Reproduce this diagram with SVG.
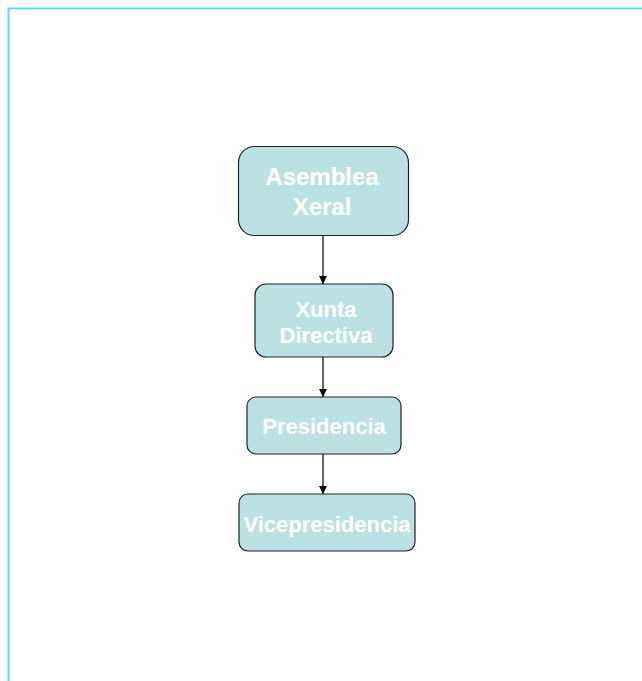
<svg xmlns="http://www.w3.org/2000/svg" width="642" height="681" viewBox="0 0 642 681">
<style>
.box{fill:#bce1e4;stroke:#222;stroke-width:1.2}
.t{font-family:"Liberation Sans",Arial,sans-serif;font-weight:bold;fill:#fff;text-anchor:middle}
.c{stroke:#000;stroke-width:1.2;fill:none;marker-end:url(#ah)}
</style>
<defs>
<marker id="ah" viewBox="0 0 10 10" refX="10" refY="5" markerWidth="8" markerHeight="8" markerUnits="userSpaceOnUse" orient="auto">
<path d="M0,0 L10,5 L0,10 z" fill="#000"/>
</marker>
</defs>
<rect x="0" y="0" width="642" height="681" fill="#fff"/>
<path d="M8.5,681 V8.5 H642" fill="none" stroke="#5fd8f5" stroke-width="2"/>
<g id="connectors">
<line class="c" x1="323" y1="235" x2="323" y2="284"/>
<line class="c" x1="323" y1="357" x2="323" y2="397"/>
<line class="c" x1="323" y1="454" x2="323" y2="494"/>
</g>
<g id="asemblea">
<rect class="box" x="238.5" y="146.5" width="170" height="89" rx="16"/>
<text class="t" x="322" y="185" font-size="24">Asemblea</text>
<text class="t" x="322" y="215" font-size="24">Xeral</text>
</g>
<g id="xunta">
<rect class="box" x="255" y="284" width="138" height="73" rx="11"/>
<text class="t" x="326" y="317" font-size="22">Xunta</text>
<text class="t" x="326" y="343" font-size="22">Directiva</text>
</g>
<g id="presidencia">
<rect class="box" x="247" y="397" width="154" height="57" rx="9"/>
<text class="t" x="324" y="434" font-size="22">Presidencia</text>
</g>
<g id="vicepresidencia">
<rect class="box" x="239" y="494" width="176" height="57" rx="9"/>
<text class="t" x="327" y="532" font-size="22">Vicepresidencia</text>
</g>
</svg>
